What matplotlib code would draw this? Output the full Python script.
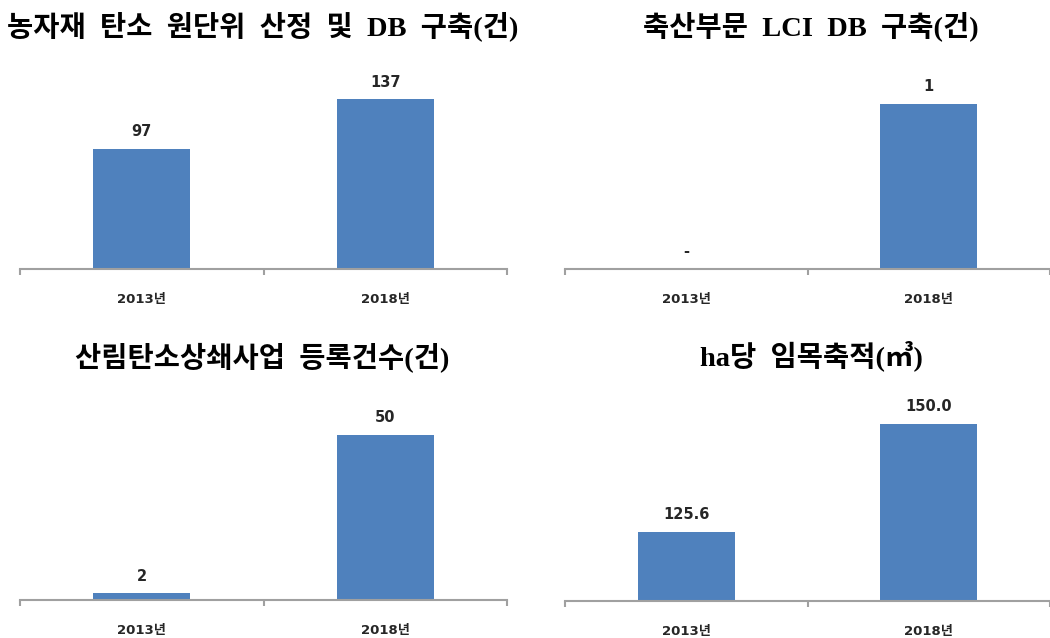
import numpy as np
import matplotlib.pyplot as plt

# Data
years = ["2013년", "2018년"]
titles = ["농자재  탄소  원단위  산정  및  DB  구축(건)",
          "축산부문  LCI  DB  구축(건)",
          "산림탄소상쇄사업  등록건수(건)",
          "ha당  임목축적(㎥)"]
values_agri = [97, 137]
values_lci = [0, 1]
values_forest = [2, 50]
values_stock = [125.6, 150.0]
labels_agri = ["97", "137"]
labels_lci = ["-", "1"]
labels_forest = ["2", "50"]
labels_stock = ["125.6", "150.0"]
ylims = [(0, 160), (0, 1.2), (0, 60), (110, 155)]

bar_color = "#4F81BD"
axis_color = "#A0A0A0"
text_color = "#262626"
title_font = ["Liberation Serif", "Noto Sans CJK KR"]
label_font = ["DejaVu Sans", "Noto Sans CJK KR"]

fig = plt.figure(figsize=(10.5, 6.38), dpi=100)
W, H = 1050, 638

# axes boxes in pixels: left, top, right, bottom
boxes = [(20, 71, 507, 269), (565, 71, 1050, 269),
         (20, 402, 507, 600), (565, 402, 1050, 601)]
title_pos = [(263, 26), (811, 26), (262, 357), (811, 356)]

all_values = [values_agri, values_lci, values_forest, values_stock]
all_labels = [labels_agri, labels_lci, labels_forest, labels_stock]

for i in range(4):
    l, t, r, b = boxes[i]
    ax = fig.add_axes([l / W, 1 - b / H, (r - l) / W, (b - t) / H])
    x = np.arange(len(years))
    vals = all_values[i]
    ax.bar(x, vals, width=0.4, color=bar_color, bottom=0)
    ax.set_xlim(-0.5, 1.5)
    ax.set_ylim(*ylims[i])

    for xi, v, lab in zip(x, vals, all_labels[i]):
        yv = max(v, ylims[i][0])
        ax.annotate(lab, (xi, yv), xytext=(0, 7), textcoords="offset points",
                    ha="center", va="bottom", fontsize=10.5, fontweight="bold",
                    color=text_color, family=label_font)

    for s in ["top", "right", "left"]:
        ax.spines[s].set_visible(False)
    ax.spines["bottom"].set_color(axis_color)
    ax.spines["bottom"].set_linewidth(1.5)
    ax.set_yticks([])
    ax.set_xticks(x)
    ax.set_xticklabels(years, fontsize=9.5, fontweight="bold", color=text_color,
                       family=label_font)
    ax.tick_params(axis="x", which="major", length=0, pad=17)
    ax.set_xticks([-0.5, 0.5, 1.5], minor=True)
    ax.tick_params(axis="x", which="minor", length=4, width=1.5, color=axis_color)

    tx, ty = title_pos[i]
    fig.text(tx / W, 1 - ty / H, titles[i], ha="center", va="center",
             fontsize=20.5, fontweight="bold", color="black", family=title_font)

fig.savefig("out.png", dpi=100)
